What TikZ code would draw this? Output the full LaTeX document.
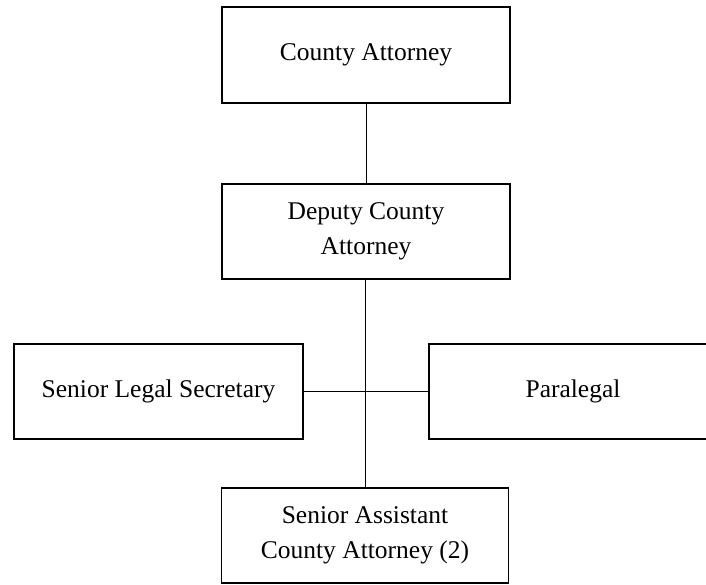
\documentclass[tikz,border=0pt]{standalone}
\usepackage{fontspec}
\setmainfont{Liberation Serif}
\begin{document}
\begin{tikzpicture}[x=1pt,y=-1pt,
  box/.style={draw=black, line width=1.3pt, fill=white, rectangle, inner sep=0pt,
    minimum width=288pt, minimum height=95pt, align=center,
    font=\fontsize{25.5}{35}\selectfont},
  conn/.style={draw=black, line width=1pt}]
\useasboundingbox (0,0) rectangle (706,584);
\clip (0,0) rectangle (706,584);
\node[box, minimum height=96pt] (ca) at (366,55) {County Attorney};
\node[box] (dca) at (366,231.5) {Deputy County\\Attorney};
\node[box, minimum width=289pt] (sls) at (158.5,391.5) {Senior Legal Secretary};
\node[box] (para) at (573,391.5) {Paralegal};
\node[box, minimum width=287pt] (saca) at (365,535.5) {Senior Assistant\\County Attorney (2)};
\draw[conn] (ca.south) -- (dca.north);
\draw[conn] (dca.south -| saca.north) -- (saca.north);
\draw[conn] (sls.east) -- (para.west);
\end{tikzpicture}
\end{document}
